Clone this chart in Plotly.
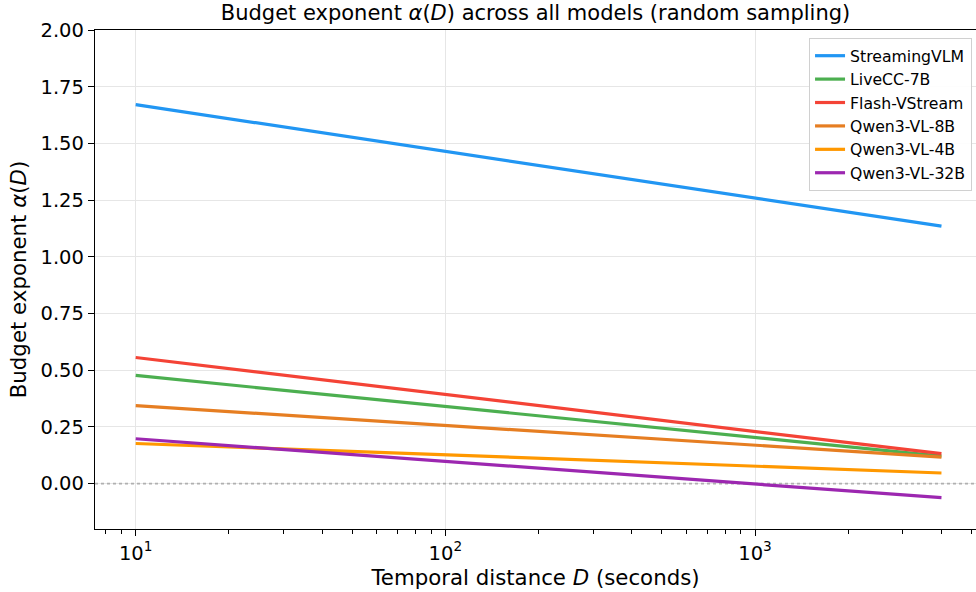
import plotly.graph_objects as go

# Temporal distance endpoints (seconds)
distance = [10, 4000]

# Fitted budget exponent alpha(D) at each distance
models = ["StreamingVLM", "LiveCC-7B", "Flash-VStream",
          "Qwen3-VL-8B", "Qwen3-VL-4B", "Qwen3-VL-32B"]
alpha_streamingvlm = [1.671, 1.135]
alpha_livecc = [0.477, 0.121]
alpha_flashvstream = [0.556, 0.132]
alpha_qwen8b = [0.344, 0.117]
alpha_qwen4b = [0.177, 0.047]
alpha_qwen32b = [0.198, -0.062]

series = [alpha_streamingvlm, alpha_livecc, alpha_flashvstream,
          alpha_qwen8b, alpha_qwen4b, alpha_qwen32b]
colors = ["#2196F3", "#4CAF50", "#F44336", "#E67E22", "#FF9800", "#9C27B0"]

x_ticks = [10, 100, 1000]
x_ticktext = ["10<sup>1</sup>", "10<sup>2</sup>", "10<sup>3</sup>"]
x_minor = [m * d for d in (1, 10, 100, 1000) for m in range(2, 10)]
y_ticks = [0.0, 0.25, 0.5, 0.75, 1.0, 1.25, 1.5, 1.75, 2.0]

FONT = "DejaVu Sans, Verdana, sans-serif"

fig = go.Figure()

# zero reference line
fig.add_trace(go.Scatter(
    x=[10 ** 0.8686, 10 ** 3.7136], y=[0, 0], mode="lines",
    line=dict(color="#b0b0b0", width=1.6, dash="dot"),
    showlegend=False, hoverinfo="skip"))

for i, (name, vals, col) in enumerate(zip(models, series, colors)):
    fig.add_trace(go.Scatter(
        x=distance, y=vals, mode="lines", name=name,
        line=dict(color=col, width=3.2),
        legendgroup=f"g{i}"))

fig.update_layout(
    width=976, height=592,
    margin=dict(l=95, r=0, t=30, b=63),
    paper_bgcolor="white", plot_bgcolor="white",
    font=dict(family=FONT, color="#000000"),
    title=dict(
        text="Budget exponent <i>α</i>(<i>D</i>) across all models (random sampling)",
        x=0.5487, xref="container", xanchor="center",
        y=1 - 13 / 592, yref="container", yanchor="middle",
        font=dict(size=21, family=FONT)),
    legend=dict(
        x=0.9955, y=0.984, xanchor="right", yanchor="top",
        bgcolor="rgba(255,255,255,0.9)", bordercolor="#d0d0d0", borderwidth=1,
        font=dict(size=15.7, family=FONT), tracegroupgap=0),
    showlegend=True,
)

fig.update_xaxes(
    type="log", range=[0.8686, 3.7136],
    tickvals=x_ticks, ticktext=x_ticktext,
    ticks="outside", ticklen=6, tickwidth=1.2, tickcolor="black",
    tickfont=dict(size=19.5, family=FONT),
    minor=dict(tickvals=x_minor, ticks="outside", ticklen=3.5, tickwidth=1,
               tickcolor="black", showgrid=False),
    showline=True, linecolor="black", linewidth=1.3, mirror=True,
    showgrid=True, gridcolor="#e6e6e6", gridwidth=1,
    zeroline=False,
    title=dict(text="Temporal distance <i>D</i> (seconds)",
               font=dict(size=21.3, family=FONT), standoff=4),
)

fig.update_yaxes(
    range=[-0.2, 2.0],
    tickvals=y_ticks, ticktext=[f"{v:.2f}" for v in y_ticks],
    ticks="outside", ticklen=6, tickwidth=1.2, tickcolor="black",
    tickfont=dict(size=19.5, family=FONT),
    showline=True, linecolor="black", linewidth=1.3, mirror=False,
    showgrid=True, gridcolor="#e6e6e6", gridwidth=1,
    zeroline=False,
    title=dict(text="Budget exponent <i>α</i>(<i>D</i>)",
               font=dict(size=21.3, family=FONT), standoff=8),
)

fig.write_html("out.html")
